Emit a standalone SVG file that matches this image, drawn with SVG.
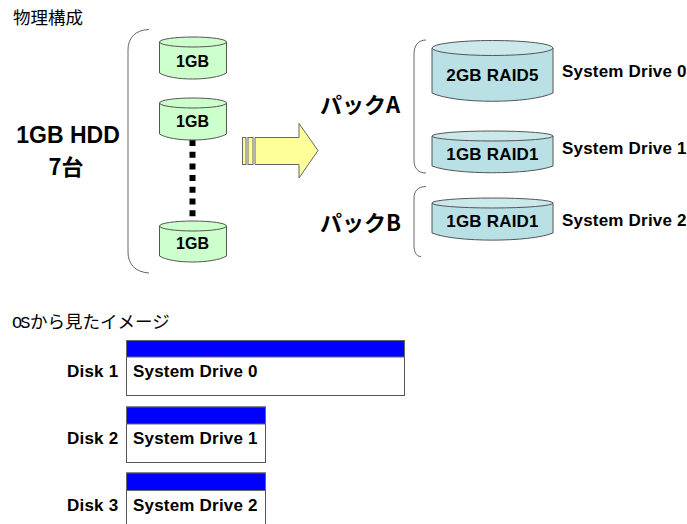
<svg xmlns="http://www.w3.org/2000/svg" width="687" height="524" viewBox="0 0 687 524">
<style>
text{font-family:"Liberation Sans","Noto Sans CJK JP",sans-serif;fill:#000}
.b{font-weight:bold;font-size:17px;letter-spacing:.2px}
.c{font-weight:bold;font-size:16px;text-anchor:middle}
.r{font-weight:bold;font-size:17px;letter-spacing:.2px;text-anchor:middle}
.j{font-family:"Noto Sans CJK JP","Liberation Sans",sans-serif;font-size:17.5px}
.p{font-family:"Noto Sans CJK JP","Liberation Sans",sans-serif;font-weight:bold;font-size:22px}
.g{fill:#ccffcc;stroke:#555;stroke-width:1}
.t{fill:#b9e0e4;stroke:#555;stroke-width:1}
.tt{fill:#cbe8ea;stroke:#555;stroke-width:1}
.br{fill:none;stroke:#666;stroke-width:1}
.bar{fill:#0000ff;stroke:#666;stroke-width:1}
.box{fill:#fff;stroke:#555;stroke-width:1}
.y{fill:#ffff99;stroke:#666;stroke-width:1}
</style>
<text x="13" y="24" class="j">物理構成</text>
<text x="12" y="328" class="j"><tspan font-family="'Liberation Mono',monospace" font-size="17" letter-spacing="-2">OS</tspan><tspan x="30">から見たイメージ</tspan></text>
<g id="hdd-label">
<text x="68" y="143" style="font-weight:bold;font-size:23px;text-anchor:middle">1GB HDD</text>
<text x="66" y="175" class="p" text-anchor="middle">7台</text>
</g>
<g id="connectors">
<path class="br" d="M149 29.500C135 30 128 38 128 50V252C128 264 135 272 149 273"/>
<path class="br" d="M426 40C418 40 414 46 414 54V160C414 168 418 173 426 173"/>
<path class="br" d="M426 186.500C418 186.500 414 191 414 198V245C414 252 416 256.500 421 256.500"/>
<line x1="192.500" y1="140" x2="192.500" y2="217" stroke="#000" stroke-width="6" stroke-dasharray="6 5.700"/>
</g>
<g id="arrow">
<rect class="y" x="242.500" y="137.500" width="3.500" height="27"/>
<rect class="y" x="248" y="137.500" width="5" height="27"/>
<path class="y" d="M255 137.500H299V123.500L318 150.500L299 178V164.500H255Z"/>
</g>
<g id="hdd-1">
<path class="g" d="M159.500 42V73C172 81 213 81 226.500 73V42Z"/>
<ellipse class="g" cx="193" cy="42" rx="33.500" ry="5"/>
<text x="192.500" y="67" class="c">1GB</text>
</g>
<g id="hdd-2">
<path class="g" d="M159.500 103V134C172 142 213 142 226.500 134V103Z"/>
<ellipse class="g" cx="193" cy="103" rx="33.500" ry="5"/>
<text x="192.500" y="127" class="c">1GB</text>
</g>
<g id="hdd-3">
<path class="g" d="M159.500 226V256C172 264 213 264 226.500 256V226Z"/>
<ellipse class="g" cx="193" cy="226" rx="33.500" ry="5"/>
<text x="192.500" y="249" class="c">1GB</text>
</g>
<g id="pack-a"><text x="320" y="113" class="p">パックA</text></g>
<g id="pack-b"><text x="320" y="231" class="p">パックB</text></g>
<g id="raid-0">
<path class="t" d="M432 48V93C455 104 530 104 553 93V48Z"/>
<ellipse class="tt" cx="492.500" cy="48" rx="60.500" ry="7.500"/>
<text x="492.500" y="81" class="r">2GB RAID5</text>
<text x="562" y="77" class="b">System Drive 0</text>
</g>
<g id="raid-1">
<path class="t" d="M432 136V166C455 175 530 175 553 166V136Z"/>
<ellipse class="tt" cx="492.500" cy="136" rx="60.500" ry="5"/>
<text x="492.500" y="160" class="r">1GB RAID1</text>
<text x="562" y="154" class="b">System Drive 1</text>
</g>
<g id="raid-2">
<path class="t" d="M432 203V233C455 242.500 530 242.500 553 233V203Z"/>
<ellipse class="tt" cx="492.500" cy="203" rx="60.500" ry="5"/>
<text x="492.500" y="227" class="r">1GB RAID1</text>
<text x="562" y="226" class="b">System Drive 2</text>
</g>
<g id="disk-1">
<rect class="box" x="126.500" y="340.500" width="278" height="55"/>
<rect class="bar" x="126.500" y="340.500" width="278" height="16.500"/>
<text x="67" y="377" class="b">Disk 1</text>
<text x="133" y="377" class="b">System Drive 0</text>
</g>
<g id="disk-2">
<rect class="box" x="126.500" y="407" width="139" height="55.500"/>
<rect class="bar" x="126.500" y="407" width="139" height="17"/>
<text x="67" y="444" class="b">Disk 2</text>
<text x="133" y="444" class="b">System Drive 1</text>
</g>
<g id="disk-3">
<rect class="box" x="126.500" y="473" width="139" height="60"/>
<rect class="bar" x="126.500" y="473" width="139" height="17.500"/>
<text x="67" y="510.500" class="b">Disk 3</text>
<text x="133" y="510.500" class="b">System Drive 2</text>
</g>
</svg>
